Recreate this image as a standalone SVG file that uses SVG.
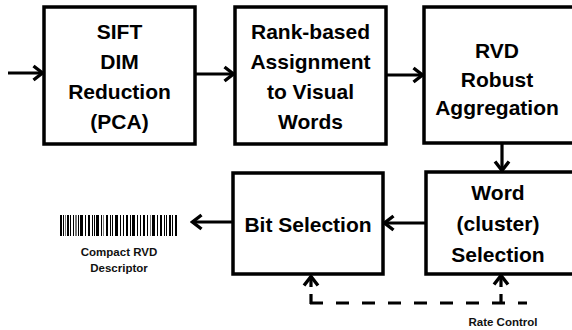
<svg xmlns="http://www.w3.org/2000/svg" width="572" height="330" viewBox="0 0 572 330">
<defs>
<style>
.box{fill:#fff;stroke:#000;stroke-width:3.5}
.t{font-family:"Liberation Sans",Arial,sans-serif;font-weight:bold;font-size:21px;text-anchor:middle;fill:#000}
.s{font-family:"Liberation Sans",Arial,sans-serif;font-weight:bold;font-size:11.5px;text-anchor:middle;fill:#111}
.c{fill:none;stroke:#000;stroke-width:3.2}
.d{fill:none;stroke:#000;stroke-width:3.2;stroke-dasharray:13 13}
</style>
<marker id="ah" markerUnits="userSpaceOnUse" viewBox="0 0 14 18" markerWidth="14" markerHeight="18" refX="11.5" refY="9" orient="auto">
<path d="M2,2 L11,9 L2,16" fill="none" stroke="#000" stroke-width="3.4" stroke-linejoin="miter"/>
</marker>
</defs>
<rect width="572" height="330" fill="#fff"/>
<g id="n1"><rect class="box" x="44" y="7" width="151" height="137"/>
<text class="t" x="119.5" y="39">SIFT</text><text class="t" x="119.5" y="69">DIM</text><text class="t" x="119.5" y="99">Reduction</text><text class="t" x="119.5" y="129">(PCA)</text></g>
<g id="n2"><rect class="box" x="235" y="7" width="151" height="137"/>
<text class="t" x="310.5" y="39">Rank-based</text><text class="t" x="310.5" y="69">Assignment</text><text class="t" x="310.5" y="99">to Visual</text><text class="t" x="310.5" y="129">Words</text></g>
<g id="n3"><rect class="box" x="424" y="7" width="160" height="136"/>
<text class="t" x="497" y="58">RVD</text><text class="t" x="497" y="87">Robust</text><text class="t" x="497" y="115">Aggregation</text></g>
<g id="n4"><rect class="box" x="426" y="172" width="160" height="102"/>
<text class="t" x="498" y="200">Word</text><text class="t" x="498" y="231">(cluster)</text><text class="t" x="498" y="262">Selection</text></g>
<g id="n5"><rect class="box" x="233" y="173" width="150" height="101"/>
<text class="t" x="308" y="232">Bit Selection</text></g>
<g id="n6">
<g fill="#000">
<rect x="60" y="215" width="2" height="21"/><rect x="63" y="215" width="1" height="21"/><rect x="65" y="215" width="1" height="21" fill="#777"/><rect x="67" y="215" width="2" height="21"/><rect x="70" y="215" width="1" height="21"/><rect x="73" y="215" width="1" height="21"/><rect x="75" y="215" width="2" height="21" fill="#777"/><rect x="78" y="215" width="1" height="21"/><rect x="80" y="215" width="3" height="21"/><rect x="85" y="215" width="1" height="21"/><rect x="88" y="215" width="2" height="21"/><rect x="92" y="215" width="1" height="21"/><rect x="94" y="215" width="1" height="21"/><rect x="96" y="215" width="3" height="21"/><rect x="101" y="215" width="1" height="21"/><rect x="103" y="215" width="1" height="21" fill="#777"/><rect x="106" y="215" width="2" height="21"/><rect x="110" y="215" width="1" height="21"/><rect x="112" y="215" width="1" height="21"/><rect x="115" y="215" width="3" height="21"/><rect x="120" y="215" width="1" height="21"/><rect x="123" y="215" width="1" height="21"/><rect x="126" y="215" width="2" height="21"/><rect x="130" y="215" width="1" height="21"/><rect x="132" y="215" width="3" height="21"/><rect x="137" y="215" width="1" height="21"/><rect x="140" y="215" width="1" height="21"/><rect x="143" y="215" width="2" height="21"/><rect x="147" y="215" width="1" height="21"/><rect x="150" y="215" width="1" height="21" fill="#777"/><rect x="152" y="215" width="3" height="21"/><rect x="157" y="215" width="1" height="21"/><rect x="160" y="215" width="2" height="21"/><rect x="164" y="215" width="1" height="21"/><rect x="166" y="215" width="1" height="21"/><rect x="169" y="215" width="2" height="21"/><rect x="172" y="215" width="1" height="21"/><rect x="175" y="215" width="2" height="21"/>
</g>
<text class="s" x="119" y="256">Compact RVD</text><text class="s" x="119" y="272">Descriptor</text></g>
<g id="n7"><text class="s" x="503" y="326">Rate Control</text></g>
<g id="connectors">
<path class="c" d="M8,73 L43,73" marker-end="url(#ah)"/>
<path class="c" d="M195,74 L234,74" marker-end="url(#ah)"/>
<path class="c" d="M386,75 L423,75" marker-end="url(#ah)"/>
<path class="c" d="M502,143 L502,171" marker-end="url(#ah)"/>
<path class="c" d="M426,223 L384,223" marker-end="url(#ah)"/>
<path class="c" d="M233,222 L192,222" marker-end="url(#ah)"/>
<path class="d" d="M310,303 L527,303"/>
<path class="c" d="M311,304 L311,294"/>
<path class="c" d="M311,287 L311,276" marker-end="url(#ah)"/>
<path class="c" d="M501,304 L501,294"/>
<path class="c" d="M501,287 L501,275" marker-end="url(#ah)"/>
</g>
</svg>
